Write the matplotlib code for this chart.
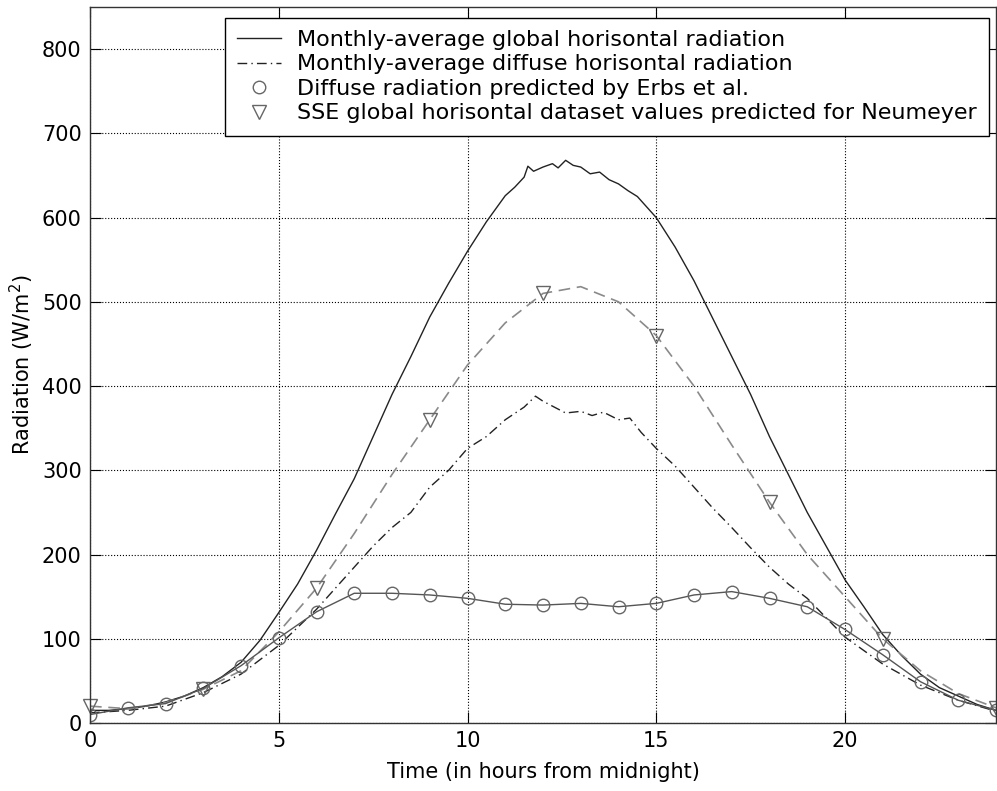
import matplotlib
matplotlib.use("Agg")
import matplotlib.pyplot as plt
from matplotlib.lines import Line2D

plt.rcParams["font.family"] = ["DejaVu Sans"]
plt.rcParams["mathtext.fontset"] = "dejavusans"

# Monthly-average global horizontal radiation (solid)
global_hours = [0, 0.5, 1, 1.5, 2, 2.5, 3, 3.5, 4, 4.5, 5, 5.5, 6, 6.5, 7, 7.5, 8, 8.5, 9, 9.5,
                10, 10.5, 11, 11.25, 11.5, 11.6, 11.75, 12, 12.25, 12.4, 12.6, 12.8, 13, 13.25,
                13.5, 13.75, 14, 14.25, 14.5, 15, 15.5, 16, 16.5, 17, 17.5, 18, 18.5, 19, 19.5,
                20, 20.5, 21, 21.5, 22, 22.5, 23, 23.5, 24]
global_vals = [15, 15, 17, 20, 25, 32, 42, 55, 72, 98, 131, 165, 205, 248, 290, 340, 390, 435, 482, 522,
               560, 595, 626, 636, 648, 661, 655, 660, 664, 659, 668, 662, 660, 652,
               654, 645, 640, 632, 625, 600, 565, 525, 480, 435, 390, 340, 295, 250, 210,
               170, 138, 105, 80, 58, 42, 32, 22, 15]

# Monthly-average diffuse horizontal radiation (dash-dot)
diffuse_hours = [0, 1, 2, 3, 4, 5, 6, 7, 7.5, 8, 8.5, 9, 9.5, 10, 10.5, 11, 11.5, 11.8, 12, 12.3,
                 12.6, 13, 13.3, 13.6, 14, 14.3, 14.6, 15, 15.5, 16, 16.5, 17, 17.5, 18, 18.5,
                 19, 19.5, 20, 21, 22, 23, 24]
diffuse_vals = [12, 15, 20, 36, 58, 92, 135, 185, 210, 232, 250, 280, 300, 326, 340, 360, 375, 388, 382, 375,
                368, 370, 365, 369, 360, 362, 345, 326, 305, 280, 255, 232, 208, 185, 165,
                148, 125, 102, 70, 45, 27, 14]

# SSE dataset curve (dashed) and the 3-hourly values (triangles)
sse_hours = list(range(25))
sse_vals = [20, 17, 24, 40, 62, 108, 160, 225, 295, 360, 425, 475, 510, 518, 500, 460, 400, 330,
            262, 200, 150, 100, 62, 35, 18]
sse_pt_hours = [0, 3, 6, 9, 12, 15, 18, 21, 24]
sse_pt_vals = [20, 40, 160, 360, 510, 460, 262, 100, 18]

# Erbs et al. predicted diffuse (circles)
erbs_hours = list(range(25))
erbs_vals = [10, 18, 23, 41, 68, 101, 132, 154, 154, 152, 148, 141, 140, 142, 138, 142, 152, 156,
             148, 138, 111, 81, 49, 27, 15]

DASHDOT = (0, (7, 3, 1, 3))
FS = 15

fig = plt.figure(figsize=(9.97, 7.91), dpi=100)
ax = fig.add_axes([90 / 997, (791 - 723) / 791, 906 / 997, 716 / 791])

ax.plot(global_hours, global_vals, color="#222222", lw=1.0)
ax.plot(diffuse_hours, diffuse_vals, color="#222222", lw=1.0, ls=DASHDOT)
ax.plot(sse_hours, sse_vals, color="#8a8a8a", lw=1.2, ls=(0, (7, 4)))
ax.plot(erbs_hours, erbs_vals, color="#555555", lw=1.0)
ax.plot(erbs_hours, erbs_vals, ls="none", marker="o", ms=9, mfc="none", mec="#666666", mew=1.0)
ax.plot(sse_pt_hours, sse_pt_vals, ls="none", marker="v", ms=10, mfc="none", mec="#666666", mew=1.0,
        clip_on=False)

ax.set_xlim(0, 24)
ax.set_ylim(0, 850)
ax.set_xticks([0, 5, 10, 15, 20])
ax.set_yticks(range(0, 900, 100))
ax.grid(True, ls=":", color="black", lw=0.8)
ax.tick_params(direction="in", top=True, right=True, length=8, labelsize=FS, pad=6)
for s in ax.spines.values():
    s.set_linewidth(1.0)
    s.set_color("#333333")

ax.set_xlabel("Time (in hours from midnight)", fontsize=FS, labelpad=8)
ax.set_ylabel("Radiation (W/m$^2$)", fontsize=FS, labelpad=4)

handles = [
    Line2D([], [], color="#222222", lw=1.0),
    Line2D([], [], color="#222222", lw=1.0, ls=DASHDOT),
    Line2D([], [], ls="none", marker="o", ms=9, mfc="none", mec="#666666"),
    Line2D([], [], ls="none", marker="v", ms=10, mfc="none", mec="#666666"),
]
labels = [
    "Monthly-average global horisontal radiation",
    "Monthly-average diffuse horisontal radiation",
    "Diffuse radiation predicted by Erbs et al.",
    "SSE global horisontal dataset values predicted for Neumeyer",
]
leg = ax.legend(handles, labels, loc="upper right", bbox_to_anchor=(0.992, 0.985), borderaxespad=0,
                fontsize=16, frameon=True, fancybox=False, framealpha=1, edgecolor="black",
                labelspacing=0.2, handlelength=2.0, borderpad=0.55, handletextpad=0.7)
leg.get_frame().set_linewidth(1.0)

fig.savefig("out.png", dpi=100)
